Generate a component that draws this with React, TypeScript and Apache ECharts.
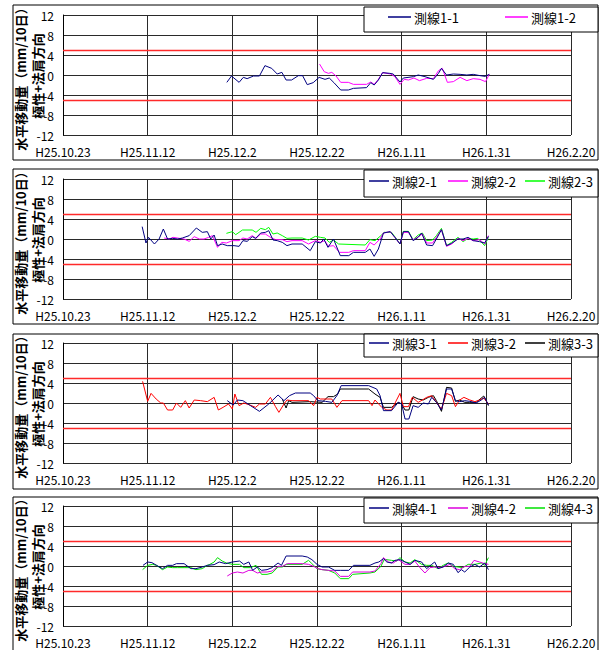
import React, { useEffect, useRef } from "react";
import * as echarts from "echarts";

// x values are days counted from H25.10.23
const dateLabels = ["H25.10.23", "H25.11.12", "H25.12.2", "H25.12.22", "H26.1.11", "H26.1.31", "H26.2.20"];
const yTitle = "水平移動量（mm/10日）\n極性+法肩方向";

const s1_1: [number, number][] = [
  [38.7, -1.47], [39.8, -0.2], [41.6, -1.47], [42.6, -0.47], [43.5, -0.73], [45.0, -0.2], [46.4, -0.2], [47.7, 1.87],
  [49.3, 1.33], [50.6, 0.2], [51.7, 0.53], [52.7, -1.0], [54.0, -1.0], [55.6, -0.13], [56.6, -0.13], [57.7, -1.93],
  [59.1, -1.53], [60.5, -0.47], [61.9, -0.87], [62.9, -0.6], [64.0, -1.53], [65.6, -3.0], [67.4, -3.0], [68.6, -2.67],
  [71.7, -2.53], [72.7, -1.53], [73.5, -2.0], [74.5, -1.0], [75.5, 0.47], [77.2, 0.33], [78.0, 0.2], [79.6, -1.4],
  [80.4, -0.6], [82.8, -0.33], [83.9, 0], [85.5, -0.33], [87.5, -0.87], [88.7, 0.33], [89.4, 1.33], [90.6, 0],
  [92.2, 0.2], [93.8, 0.13], [95.4, 0], [96.9, 0.13], [98.5, -0.13], [99.7, -0.27], [100.7, 0.13],
];
const s1_2: [number, number][] = [
  [60.6, 2.2], [61.7, 0.67], [62.7, 0.33], [63.5, 0.53], [64.5, -0.2], [65.6, -1.47], [67.4, -1.47], [68.6, -1.87],
  [71.7, -1.87], [72.7, -1.4], [73.5, -1.87], [74.5, -0.87], [75.5, 0.47], [77.4, 0.2], [78.4, -0.33], [79.6, -1.87],
  [80.6, -0.87], [81.6, -1.0], [82.9, -0.6], [84.2, -1.13], [85.9, -0.67], [87.5, -0.73], [88.7, 0.87], [89.6, 1.33],
  [90.8, -1.47], [92.2, -1.33], [93.8, -0.47], [95.4, -1.13], [96.9, -0.73], [98.5, -0.87], [99.8, -1.33], [100.7, 0.13],
];

const s2_1: [number, number][] = [
  [18.7, 2.47], [19.6, -0.8], [20.2, 0.33], [21.6, -1.0], [22.7, 0], [23.7, 2.0], [24.7, 0], [25.9, 0.13], [27.1, 0],
  [28.2, 0.2], [29.8, 0.67], [31.5, 2.2], [32.9, 1.33], [34.1, 1.47], [34.9, 0], [35.7, 0.8], [36.5, -1.33], [37.6, -1.0],
  [38.8, -1.33], [40.4, -1.33], [41.6, -1.47], [42.5, -0.33], [43.5, -0.47], [44.7, 0.47], [45.5, 0.13], [46.7, 1.2],
  [47.8, 1.33], [48.6, 1.67], [49.6, -0.2], [50.6, -0.33], [51.8, -0.67], [52.9, -1.33], [54.1, -1.0], [56.5, -1.0],
  [58.4, -2.33], [59.6, -0.53], [60.8, -0.8], [61.6, 0], [62.6, -1.67], [63.9, 0], [65.5, -3.33], [67.5, -3.33],
  [68.6, -2.67], [71.4, -2.67], [72.5, -2.0], [73.5, -3.47], [74.5, -2.0], [75.7, 1.2], [77.3, 1.47], [78.4, 0.33],
  [79.6, -1.0], [80.4, 1.47], [81.6, 1.47], [82.7, -0.33], [83.9, 0.33], [84.7, 1.2], [85.9, -1.2], [87.3, -1.33],
  [88.2, 0], [89.4, 1.87], [90.6, -1.33], [91.8, -0.87], [93.3, 0], [94.5, 0], [95.7, 0.33], [96.9, -0.33], [98.4, -0.53],
  [99.6, -0.8], [100.5, 0.53],
];
const s2_2: [number, number][] = [
  [23.9, 0.2], [25.1, 0], [26.0, 0.33], [27.5, 0.13], [28.6, 0], [29.8, -0.47], [31.0, 0.47], [32.2, 0], [33.3, 0],
  [34.4, 0.33], [35.3, 0.67], [36.5, -1.67], [37.5, -0.67], [38.6, -0.8], [40.0, -0.33], [41.6, -0.33], [42.5, 0.2],
  [43.5, 0], [44.7, 0.67], [45.6, 0.13], [46.7, 1.0], [47.8, 1.0], [49.0, 0.33], [50.2, -0.13], [51.8, -0.13],
  [52.9, -0.53], [54.1, -0.33], [56.5, -0.33], [58.0, -1.0], [59.6, -0.33], [60.8, -0.67], [61.8, -0.33], [62.7, -1.47],
  [63.9, -1.33], [65.3, -2.67], [67.5, -2.67], [68.6, -2.33], [71.4, -2.33], [72.5, -0.67], [73.5, -1.2], [74.9, 0],
  [75.7, 1.2], [77.3, 1.47], [78.4, 0.33], [79.6, -1.0], [80.4, 1.33], [81.6, 1.33], [82.7, -0.2], [83.9, 0.47],
  [84.9, 1.0], [85.9, -0.8], [87.3, -0.8], [88.2, 0.33], [89.4, 1.87], [90.6, -1.47], [91.8, -1.0], [93.3, 0.13],
  [94.5, -0.33], [95.7, 0.13], [96.9, -0.33], [98.4, -0.13], [99.6, -1.0], [100.5, 0.67],
];
const s2_3: [number, number][] = [
  [38.6, 1.13], [40.0, 1.47], [40.8, 0.87], [42.4, 1.8], [44.7, 1.8], [45.6, 1.33], [46.7, 2.13], [47.8, 1.87],
  [48.6, 2.33], [49.6, 1.0], [50.6, 1.2], [51.8, 0.67], [52.9, 0.13], [54.1, 0.2], [56.5, 0.2], [58.0, -0.2],
  [59.6, 0.53], [60.8, 0.33], [61.9, 0.2], [62.9, -0.67], [63.9, -0.2], [65.1, -1.0], [71.4, -1.2], [72.5, -0.13],
  [73.7, -0.33], [74.9, 0.53], [75.9, 1.33], [77.6, 1.33], [78.8, 0], [79.6, -1.0], [80.4, 1.53], [81.6, 1.53],
  [82.7, -0.13], [83.9, 0.8], [84.9, 1.2], [85.9, -0.33], [87.3, -0.2], [88.2, 0.67], [89.4, 2.13], [90.6, -1.33],
  [91.8, -0.67], [93.3, 0.33], [94.5, -0.53], [95.7, 0.13], [96.9, 0], [98.0, 0.13], [99.6, -1.33], [100.5, 0.33],
];

const s3_1: [number, number][] = [
  [38.8, 0.47], [40.2, -0.4], [41.2, 0.6], [42.5, 0.47], [44.3, -0.53], [46.4, -1.67], [48.6, -0.2], [50.8, 1.6],
  [52.2, 0.47], [53.5, 1.47], [54.9, 2.0], [58.4, 2.0], [59.2, 1.47], [60.2, 0.47], [62.0, 0.33], [63.5, 0.13],
  [64.7, 1.47], [65.7, 3.47], [72.2, 3.47], [74.1, 2.8], [74.9, 1.47], [75.7, -1.53], [77.6, -1.53], [79.2, 0.13],
  [80.0, -0.2], [80.8, -3.2], [81.7, -3.2], [82.7, -0.53], [83.9, -0.87], [85.1, 0], [86.3, -0.2], [87.1, 1.13],
  [88.2, 0.13], [89.4, -1.4], [90.6, 2.8], [91.8, 2.8], [92.7, 0.47], [93.7, 0.27], [94.9, 0.47], [96.1, 0.33],
  [97.6, 0], [98.8, 0.6], [99.6, 1.13], [100.5, -0.4],
];
const s3_2: [number, number][] = [
  [18.8, 4.33], [20.0, 0.33], [20.8, 1.93], [22.0, 0.8], [23.1, 0], [23.7, 0], [24.7, -1.4], [25.9, -1.4], [26.8, 0],
  [27.8, -0.87], [28.9, 0.47], [29.8, -1.0], [31.0, 0.6], [32.5, 0.47], [34.1, 0.27], [35.7, 1.13], [36.7, -1.4],
  [37.8, -0.87], [39.1, -0.2], [40.0, -1.2], [40.6, 1.8], [41.6, -0.53], [42.7, 0], [43.9, -0.33], [45.5, -0.87],
  [46.4, -0.2], [47.8, -0.2], [49.0, 1.13], [50.2, -0.73], [51.0, -1.87], [52.2, -0.2], [52.9, 0.6], [54.1, 0.47],
  [58.0, 0.47], [59.2, -0.53], [60.0, 1.13], [60.8, 0.8], [62.4, 0.8], [63.5, 0.8], [64.7, -0.87], [65.9, 0.47],
  [72.2, 0.47], [73.0, -0.53], [73.7, 0.6], [75.3, -0.87], [76.5, -1.4], [77.6, -1.4], [79.6, 1.93], [80.4, -0.73],
  [81.6, -0.73], [82.5, 1.13], [83.9, 0.13], [84.9, 0.6], [85.9, 1.13], [87.1, 1.47], [88.2, 0.13], [89.4, -1.2],
  [90.6, 1.93], [91.8, 1.47], [92.7, -0.73], [93.7, 0.6], [94.7, 1.13], [96.1, 0.6], [97.3, 0.27], [98.4, 0.6],
  [99.4, 1.0], [100.5, -0.2],
];
const s3_3: [number, number][] = [
  [51.8, 0.8], [52.7, -1.0], [53.3, 0.47], [54.1, 0.13], [58.4, 0.27], [61.2, 0.13], [62.6, 1.27], [63.9, 1.27],
  [64.9, 1.8], [65.5, 2.8], [72.2, 2.8], [73.7, 1.8], [74.9, 1.13], [75.7, -0.87], [77.6, -0.87], [79.2, 0.13],
  [80.0, -0.2], [80.8, -1.4], [81.7, -1.4], [82.7, 1.27], [83.9, 0.8], [85.1, 0.6], [86.3, 1.13], [87.5, 1.47],
  [88.2, 0.47], [89.4, -1.67], [90.6, 3.13], [91.8, 3.0], [92.7, 0.33], [93.7, 0.6], [94.9, 0.13], [96.1, 0.13],
  [97.6, 0.13], [99.4, 1.4], [100.5, -0.53],
];

const s4_1: [number, number][] = [
  [18.9, 0.13], [20.0, 0.8], [21.0, 0.67], [22.1, 0.13], [23.5, -0.53], [24.7, 0.13], [25.9, 0.13], [26.8, 0.47],
  [28.6, 0.47], [30.2, -0.53], [31.4, -0.53], [32.9, -0.2], [34.1, 0.13], [35.7, 0.27], [36.9, 0.8], [38.4, 0.47],
  [40.0, 0.8], [41.7, 1.0], [42.7, 0.33], [43.9, 0.8], [44.8, -0.87], [45.9, -0.2], [46.9, -0.87], [48.2, -0.73],
  [49.4, -0.33], [50.8, 0.6], [51.6, 0.13], [52.7, 2.0], [56.5, 2.0], [57.7, 1.8], [58.8, 1.27], [60.0, 0.33],
  [61.2, -0.2], [62.7, -0.2], [64.2, -0.87], [65.5, -0.87], [67.5, -0.87], [68.6, 0.13], [72.5, 0.13], [73.7, 0.6],
  [74.6, 0.8], [75.7, 1.47], [76.5, 0.8], [77.6, 0.6], [78.4, 1.13], [79.6, 1.27], [80.8, 0.8], [82.0, 0.33],
  [83.1, 1.13], [84.7, 0.8], [85.9, -0.53], [87.1, 0.33], [87.8, 0.8], [88.6, -0.53], [89.8, -0.2], [91.0, 0.6],
  [92.2, 0.33], [93.3, -1.33], [94.1, -0.73], [94.9, -1.2], [96.1, -0.2], [97.3, 0.33], [98.4, -0.2], [99.6, 0.6],
  [100.5, -0.73],
];
const s4_2: [number, number][] = [
  [38.8, -2.0], [40.0, -1.4], [41.2, -1.2], [42.5, -1.4], [43.9, -0.87], [44.8, -0.87], [45.9, -1.4], [46.9, -1.2],
  [48.2, -1.2], [49.4, -1.0], [50.8, -0.07], [51.8, -0.07], [53.0, 0.47], [56.5, 0.47], [58.0, 0.33], [59.2, -0.07],
  [60.2, -0.53], [61.2, -0.73], [62.7, -0.87], [64.2, -1.0], [65.5, -2.07], [67.5, -2.07], [68.4, -1.2], [72.5, -1.2],
  [73.7, -1.0], [75.1, 0.47], [75.7, 1.67], [76.9, 0.8], [78.0, 0.6], [79.2, 1.27], [80.8, 0.33], [82.0, 0.33],
  [83.1, 1.0], [84.3, -0.33], [85.5, -1.4], [86.7, -0.33], [87.8, -0.2], [89.0, -0.33], [90.2, -0.07], [91.4, 0.33],
  [92.5, -0.53], [93.7, -0.73], [94.9, -0.07], [96.1, -0.07], [97.1, 1.13], [98.4, 0.8], [99.6, 0.47], [100.5, 0.33],
];
const s4_3: [number, number][] = [
  [18.8, -0.73], [20.0, 0.13], [21.2, 0.33], [22.1, 0.13], [23.5, -0.73], [24.7, -0.2], [25.9, -0.33], [27.1, -0.33],
  [28.6, -0.33], [30.2, -0.33], [31.4, -0.73], [32.9, -0.53], [34.1, 0.13], [34.7, 0.33], [35.7, 0.8], [36.5, 1.67],
  [37.6, 1.0], [38.6, 0.6], [40.0, 0.33], [41.7, 0.33], [42.7, -0.33], [44.3, -0.33], [45.6, 0.13], [46.9, -1.67],
  [48.2, -1.67], [49.4, -1.4], [50.8, -0.2], [51.8, -0.2], [52.7, 0.33], [56.5, 0.33], [58.0, 1.13], [58.8, 0.47],
  [60.0, -0.53], [61.2, -0.73], [62.7, -0.87], [64.2, -1.4], [65.5, -2.53], [67.5, -2.53], [68.4, -1.67], [72.5, -1.4],
  [73.7, -1.2], [75.1, -0.07], [75.9, 1.33], [77.6, 1.13], [78.8, 1.0], [79.6, 1.67], [80.8, 0.8], [82.0, 0.6],
  [83.1, 1.27], [84.7, 0.33], [85.9, 0.13], [87.1, 0.13], [88.6, -0.53], [89.8, 0.13], [91.0, 0.6], [92.2, -0.07],
  [93.3, -0.2], [94.5, -0.33], [95.7, 0.33], [97.3, 0.33], [98.8, 0.6], [99.6, 0.13], [100.5, 1.67],
];

const panelSeries = [
  [{ name: "測線1-1", color: "#000080", data: s1_1 }, { name: "測線1-2", color: "#ff00ff", data: s1_2 }],
  [
    { name: "測線2-1", color: "#000080", data: s2_1 },
    { name: "測線2-2", color: "#ff00ff", data: s2_2 },
    { name: "測線2-3", color: "#00ff00", data: s2_3 },
  ],
  [
    { name: "測線3-1", color: "#000080", data: s3_1 },
    { name: "測線3-2", color: "#ff0000", data: s3_2 },
    { name: "測線3-3", color: "#000000", data: s3_3 },
  ],
  [
    { name: "測線4-1", color: "#000080", data: s4_1 },
    { name: "測線4-2", color: "#dd00dd", data: s4_2 },
    { name: "測線4-3", color: "#00e000", data: s4_3 },
  ],
];

// layout
const gridTops = [15, 179, 343, 506];
const panelTops = [5, 169, 334, 497];
const legendTops = [7, 170, 334, 498];
const legendHeights = [25, 27, 23, 25];
const legendLefts = [[388, 505], [369, 448, 525], [369, 448, 525], [369, 448, 525]];
const legendItemW = [23, 20, 20, 20];
const FONT = '"Noto Sans CJK JP", "Noto Sans", sans-serif';

export default function App() {
  const ref = useRef<HTMLDivElement>(null);
  useEffect(() => {
    document.body.style.margin = "0";
    if (!ref.current) return;
    const chart = echarts.init(ref.current, null, { renderer: "svg" });
    const grid: any[] = [];
    const xAxis: any[] = [];
    const yAxis: any[] = [];
    const series: any[] = [];
    const legend: any[] = [];
    const graphic: any[] = [];
    gridTops.forEach((top, i) => {
      grid.push({ left: 63, width: 508, top, height: 120 });
      xAxis.push({
        type: "value",
        gridIndex: i,
        min: 0,
        max: 120,
        interval: 20,
        axisLine: { show: false },
        axisTick: { show: false },
        splitLine: { show: true, lineStyle: { color: "#2a2a2a", width: 1 } },
        axisLabel: {
          color: "#000",
          fontSize: 12,
          margin: 10,
          fontFamily: FONT,
          formatter: (v: number) => dateLabels[Math.round(v / 20)] ?? "",
        },
      });
      yAxis.push({
        type: "value",
        gridIndex: i,
        min: -12,
        max: 12,
        interval: 4,
        axisLine: { show: true, lineStyle: { color: "#000", width: 1 } },
        axisTick: { show: false },
        splitLine: { show: true, lineStyle: { color: "#2a2a2a", width: 1 } },
        axisLabel: { color: "#000", fontSize: 12, margin: 9, fontFamily: FONT },
      });
      panelSeries[i].forEach((s, j) => {
        series.push({
          type: "line",
          name: s.name,
          xAxisIndex: i,
          yAxisIndex: i,
          data: s.data,
          symbol: "none",
          color: s.color,
          lineStyle: { color: s.color, width: 1 },
          z: 3 + (panelSeries[i].length - j),
          markLine:
            j === 0
              ? {
                  silent: true,
                  symbol: "none",
                  label: { show: false },
                  lineStyle: { color: "#ff2a2a", width: 1.3, type: "solid" },
                  data: [{ yAxis: 5 }, { yAxis: -5 }],
                }
              : undefined,
        });
        legend.push({
          data: [s.name],
          left: legendLefts[i][j],
          top: legendTops[i] + legendHeights[i] / 2 - 9,
          padding: 0,
          icon: "rect",
          itemWidth: legendItemW[i],
          itemHeight: 1.5,
          selectedMode: false,
          z: 20,
          textStyle: { color: "#000", fontSize: 13, fontFamily: FONT, padding: [0, 0, 0, -2] },
        });
      });
      graphic.push({
        type: "rect",
        z: 1,
        shape: { x: 13, y: panelTops[i], width: 585, height: 155 },
        style: { fill: "none", stroke: "#000", lineWidth: 1 },
        silent: true,
      });
      graphic.push({
        type: "rect",
        z: 10,
        shape: { x: 364, y: legendTops[i], width: 234, height: legendHeights[i] },
        style: { fill: "#fff", stroke: "#000", lineWidth: 1 },
        silent: true,
      });
      graphic.push({
        type: "text",
        z: 10,
        x: 28.5,
        y: top + 61,
        rotation: Math.PI / 2,
        silent: true,
        style: {
          text: yTitle,
          align: "center",
          verticalAlign: "middle",
          fontSize: 13,
          fontWeight: "bold",
          fontFamily: FONT,
          lineHeight: 17,
          fill: "#000",
        },
      });
    });
    chart.setOption({
      animation: false,
      backgroundColor: "#fff",
      grid,
      xAxis,
      yAxis,
      series,
      legend,
      graphic: { elements: graphic },
    });
    return () => chart.dispose();
  }, []);
  return <div ref={ref} style={{ width: 604, height: 650 }} />;
}
